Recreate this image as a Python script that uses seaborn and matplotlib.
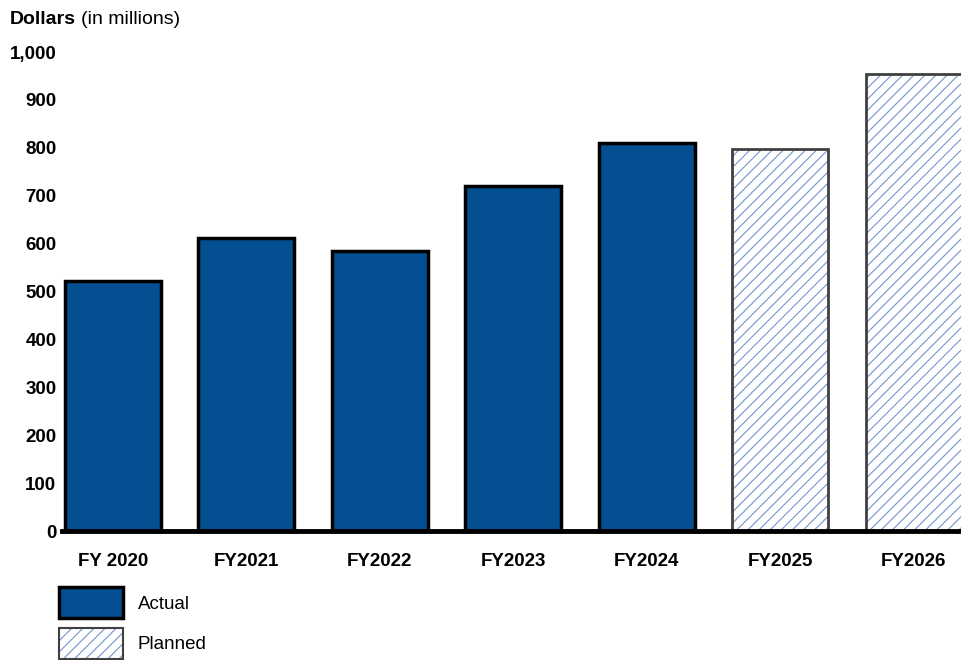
import matplotlib
matplotlib.use("Agg")
import matplotlib.pyplot as plt
import seaborn as sns
import pandas as pd
from matplotlib.patches import Patch, Rectangle

categories = ["FY 2020", "FY2021", "FY2022", "FY2023", "FY2024", "FY2025", "FY2026"]
values = [522, 612, 585, 720, 810, 797, 954]
status = ["Actual", "Actual", "Actual", "Actual", "Actual", "Planned", "Planned"]
yticks = [0, 100, 200, 300, 400, 500, 600, 700, 800, 900, 1000]
ytick_labels = ["0", "100", "200", "300", "400", "500", "600", "700", "800", "900", "1,000"]

ACTUAL = "#044F91"
HATCH = "#7393CC"
PLAN_EDGE = "#404040"

sns.set_style("white")
plt.rcParams["font.family"] = ["Liberation Sans", "DejaVu Sans"]
plt.rcParams["text.color"] = "black"
plt.rcParams["xtick.color"] = "black"
plt.rcParams["ytick.color"] = "black"
plt.rcParams["hatch.linewidth"] = 0.8

FS = 13.5

df = pd.DataFrame({"cat": categories, "val": values, "status": status})

fig = plt.figure(figsize=(9.62, 6.6), dpi=100)
ax = fig.add_axes([62/962, 1 - 531/660, 900/962, (531 - 52)/660])

sns.barplot(data=df, x="cat", y="val", order=categories, color=ACTUAL,
            width=0.72, ax=ax, edgecolor="black", linewidth=2.5, saturation=1)

for p, s in zip(ax.patches, status):
    if s == "Planned":
        p.set_facecolor("white")
        p.set_edgecolor(HATCH)
        p.set_linewidth(0)
        p.set_hatch("///")
        ax.add_patch(Rectangle((p.get_x(), p.get_y()), p.get_width(), p.get_height(),
                               fill=False, edgecolor=PLAN_EDGE, linewidth=2, zorder=p.get_zorder() + 0.1))

ax.set_xlim(-0.38, 6.36)
ax.set_ylim(0, 1000)
ax.set_yticks(yticks)
ax.set_yticklabels(ytick_labels, fontsize=FS, fontweight="bold")
ax.set_xticks(range(len(categories)))
ax.set_xticklabels(categories, fontsize=FS, fontweight="bold")
ax.tick_params(axis="y", length=0, pad=4)
ax.tick_params(axis="x", length=0, pad=16)
ax.set_xlabel("")
ax.set_ylabel("")
for sp in ["left", "right", "top"]:
    ax.spines[sp].set_visible(False)
ax.spines["bottom"].set_linewidth(3.5)
ax.spines["bottom"].set_color("black")
ax.spines["bottom"].set_zorder(5)

fig.text(10/962, 1 - 20/660, "Dollars", fontsize=14, fontweight="bold", va="center", ha="left")
fig.text(81/962, 1 - 20/660, "(in millions)", fontsize=14, va="center", ha="left")

h_actual = Patch(facecolor=ACTUAL, edgecolor="black", linewidth=2.5, label="Actual")
h_plan = Patch(facecolor="white", edgecolor=PLAN_EDGE, linewidth=1.5, hatch="///", label="Planned")
h_plan._hatch_color = matplotlib.colors.to_rgba(HATCH)
leg = fig.legend(handles=[h_actual, h_plan], loc="upper left",
                 bbox_to_anchor=(59/962, 1 - 587/660), frameon=False,
                 fontsize=FS, handlelength=3.4, handleheight=2.2,
                 labelspacing=0.5, handletextpad=0.8, borderaxespad=0, borderpad=0)

fig.savefig("out.png", dpi=100)
